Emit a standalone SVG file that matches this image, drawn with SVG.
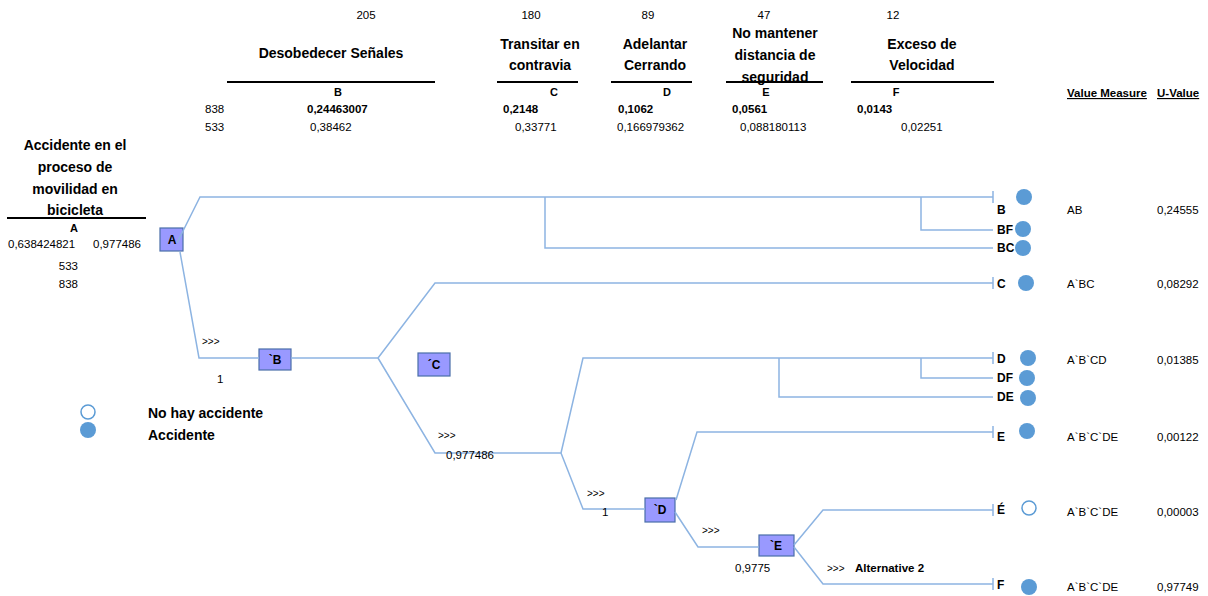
<svg xmlns="http://www.w3.org/2000/svg" width="1208" height="596" viewBox="0 0 1208 596">
<style>
text{font-family:"Liberation Sans",Arial,sans-serif;fill:#000}
.t{font-size:14px;font-weight:bold}
.tm{font-size:14px;font-weight:bold;text-anchor:middle}
.n{font-size:11.5px}
.nb{font-size:11.5px;font-weight:bold}
.lc{font-size:11px;font-weight:bold;text-anchor:middle}
.lb{font-size:12px;font-weight:bold}
.sm{font-size:10px}
.hl{stroke:#000;stroke-width:2}
.c{fill:none;stroke:#8db4e2;stroke-width:1.5}
.nd{fill:#9999ff;stroke:#4a6ea8;stroke-width:1.2}
.nt{font-size:12px;font-weight:bold;text-anchor:middle}
.dot{fill:#5b9bd5}
.odot{fill:#fff;stroke:#5b9bd5;stroke-width:1.5}
.u{text-decoration:underline}
</style>
<g id="header">
<text class="n" x="366" y="19" text-anchor="middle">205</text>
<text class="n" x="531" y="19" text-anchor="middle">180</text>
<text class="n" x="648" y="19" text-anchor="middle">89</text>
<text class="n" x="764" y="19" text-anchor="middle">47</text>
<text class="n" x="893" y="19" text-anchor="middle">12</text>
<text class="tm" x="331" y="58">Desobedecer Señales</text>
<text class="tm" x="540" y="49">Transitar en</text>
<text class="tm" x="540" y="70">contravia</text>
<text class="tm" x="655" y="49">Adelantar</text>
<text class="tm" x="655" y="70">Cerrando</text>
<text class="tm" x="775" y="38">No mantener</text>
<text class="tm" x="775" y="60">distancia de</text>
<text class="tm" x="775" y="82">seguridad</text>
<text class="tm" x="922" y="49">Exceso de</text>
<text class="tm" x="922" y="70">Velocidad</text>
<line class="hl" x1="227" y1="82" x2="435" y2="82"/>
<line class="hl" x1="497" y1="82" x2="578" y2="82"/>
<line class="hl" x1="611" y1="82" x2="692" y2="82"/>
<line class="hl" x1="726" y1="82" x2="823" y2="82"/>
<line class="hl" x1="851" y1="82" x2="994" y2="82"/>
<text class="lc" x="338" y="96">B</text>
<text class="lc" x="554" y="96">C</text>
<text class="lc" x="667" y="96">D</text>
<text class="lc" x="766" y="96">E</text>
<text class="lc" x="896" y="96">F</text>
<text class="n" x="205" y="113">838</text>
<text class="nb" x="307" y="113">0,24463007</text>
<text class="nb" x="503" y="113">0,2148</text>
<text class="nb" x="618" y="113">0,1062</text>
<text class="nb" x="732" y="113">0,0561</text>
<text class="nb" x="857" y="113">0,0143</text>
<text class="n" x="205" y="131">533</text>
<text class="n" x="310" y="131">0,38462</text>
<text class="n" x="515" y="131">0,33771</text>
<text class="n" x="617" y="131">0,166979362</text>
<text class="n" x="740" y="131">0,088180113</text>
<text class="n" x="901" y="131">0,02251</text>
<text class="nb u" x="1067" y="97">Value Measure</text>
<text class="nb u" x="1157" y="97">U-Value</text>
</g>
<g id="root-info">
<text class="tm" x="75" y="150">Accidente en el</text>
<text class="tm" x="75" y="172">proceso de</text>
<text class="tm" x="75" y="194">movilidad en</text>
<text class="tm" x="75" y="215">bicicleta</text>
<line class="hl" x1="7" y1="218" x2="146" y2="218"/>
<text class="lc" x="74" y="232">A</text>
<text class="n" x="8" y="248">0,638424821</text>
<text class="n" x="93" y="248">0,977486</text>
<text class="n" x="78" y="270" text-anchor="end">533</text>
<text class="n" x="78" y="288" text-anchor="end">838</text>
</g>
<g id="legend">
<circle class="odot" cx="88" cy="412" r="7"/>
<circle class="dot" cx="88" cy="430" r="8"/>
<text class="t" x="148" y="418">No hay accidente</text>
<text class="t" x="148" y="440">Accidente</text>
</g>
<g id="nodes">
<g id="node-A"><rect class="nd" x="160" y="228" width="23" height="23"/><text class="nt" x="172" y="244">A</text></g>
<g id="node-B"><rect class="nd" x="259" y="349" width="32" height="21"/><text class="nt" x="275" y="364">`B</text></g>
<g id="node-C"><rect class="nd" x="418" y="353" width="32" height="23"/><text class="nt" x="434" y="369">´C</text></g>
<g id="node-D"><rect class="nd" x="645" y="498" width="30" height="24"/><text class="nt" x="660" y="514">`D</text></g>
<g id="node-E"><rect class="nd" x="759" y="535" width="35" height="21"/><text class="nt" x="776" y="550">`E</text></g>
</g>
<g id="connectors">
<path class="c" d="M177,243 L200,197 H993 M993,191 V203"/>
<path class="c" d="M921,197 V230 H993"/>
<path class="c" d="M545,197 V248 H993"/>
<path class="c" d="M180,252 L199,358 H259 M291,358 H378"/>
<path class="c" d="M378,358 L435,283 H993 M993,277 V289"/>
<path class="c" d="M378,358 L435,453 H561"/>
<path class="c" d="M561,453 L583,358 H993 M993,352 V364"/>
<path class="c" d="M921,358 V378 H993"/>
<path class="c" d="M779,358 V397 H993"/>
<path class="c" d="M561,453 L583,509 H645"/>
<path class="c" d="M676,500 L697,432 H993 M993,426 V438"/>
<path class="c" d="M675,512 L698,547 H759"/>
<path class="c" d="M794,545 L823,510 H993 M993,504 V516"/>
<path class="c" d="M794,547 L823,584 H993 M993,578 V590"/>
</g>
<g id="branch-labels">
<text class="sm" x="202" y="345">&gt;&gt;&gt;</text>
<text class="n" x="217" y="383">1</text>
<text class="sm" x="438" y="439">&gt;&gt;&gt;</text>
<text class="n" x="446" y="459">0,977486</text>
<text class="sm" x="587" y="497">&gt;&gt;&gt;</text>
<text class="n" x="602" y="516">1</text>
<text class="sm" x="702" y="534">&gt;&gt;&gt;</text>
<text class="n" x="735" y="572">0,9775</text>
<text class="sm" x="827" y="572">&gt;&gt;&gt;</text>
<text class="nb" x="855" y="572">Alternative 2</text>
</g>
<g id="outcomes">
<text class="lb" x="997" y="214">B</text>
<text class="lb" x="997" y="234">BF</text>
<text class="lb" x="997" y="252">BC</text>
<text class="lb" x="997" y="288">C</text>
<text class="lb" x="997" y="363">D</text>
<text class="lb" x="997" y="382">DF</text>
<text class="lb" x="997" y="401">DE</text>
<text class="lb" x="997" y="441">E</text>
<text class="lb" x="997" y="514">É</text>
<text class="lb" x="997" y="589">F</text>
<circle class="dot" cx="1024" cy="197" r="8"/>
<circle class="dot" cx="1023" cy="229" r="8"/>
<circle class="dot" cx="1023" cy="248" r="8"/>
<circle class="dot" cx="1026" cy="283" r="8"/>
<circle class="dot" cx="1028" cy="358" r="8"/>
<circle class="dot" cx="1027" cy="378" r="8"/>
<circle class="dot" cx="1028" cy="398" r="8"/>
<circle class="dot" cx="1027" cy="431" r="8"/>
<circle class="odot" cx="1029" cy="508" r="7"/>
<circle class="dot" cx="1029" cy="587" r="8"/>
<text class="n" x="1067" y="214">AB</text>
<text class="n" x="1157" y="214">0,24555</text>
<text class="n" x="1067" y="288">A`BC</text>
<text class="n" x="1157" y="288">0,08292</text>
<text class="n" x="1067" y="364">A`B`CD</text>
<text class="n" x="1157" y="364">0,01385</text>
<text class="n" x="1067" y="441">A`B`C`DE</text>
<text class="n" x="1157" y="441">0,00122</text>
<text class="n" x="1067" y="516">A`B`C`DE</text>
<text class="n" x="1157" y="516">0,00003</text>
<text class="n" x="1067" y="591">A`B`C`DE</text>
<text class="n" x="1157" y="591">0,97749</text>
</g>
</svg>
